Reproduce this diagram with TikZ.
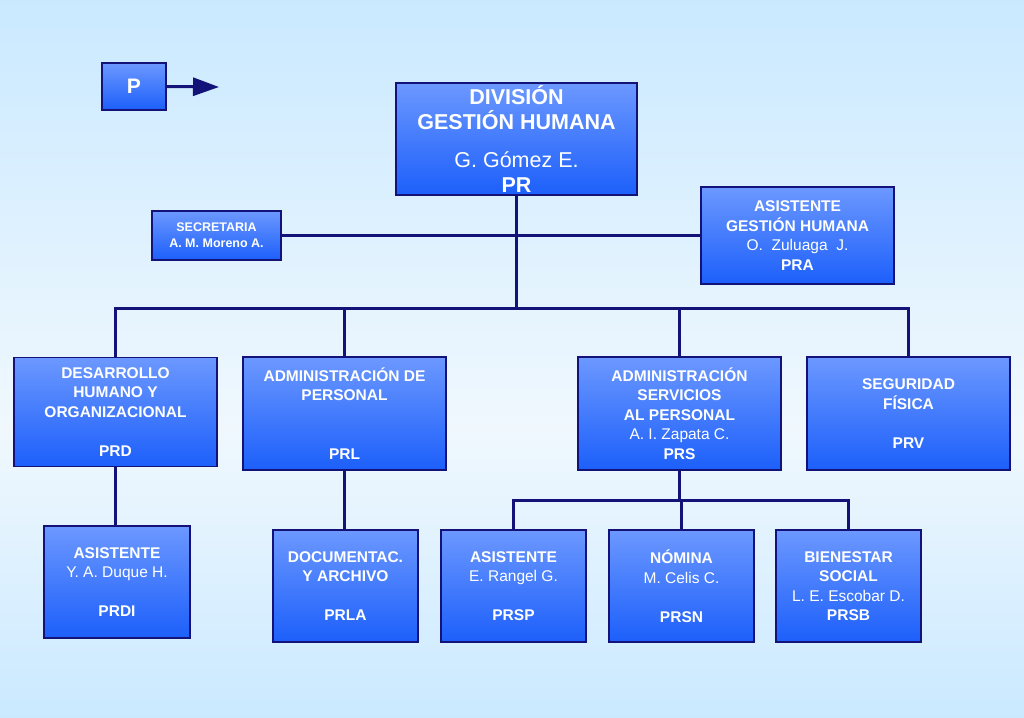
\documentclass[tikz,border=0pt]{standalone}
\usepackage{fontspec}
\setmainfont{Liberation Sans}
\usetikzlibrary{arrows.meta}
\definecolor{navy}{RGB}{18,18,120}
\definecolor{boxtop}{RGB}{108,152,255}
\definecolor{boxbot}{RGB}{28,95,250}
\definecolor{bgtop}{RGB}{202,233,255}
\definecolor{bgmid}{RGB}{240,248,254}
\tikzset{
  box/.style={draw=navy, line width=1.8pt, top color=boxtop, bottom color=boxbot,
    text=white, align=center, inner sep=0pt, font=\fontsize{15.5}{19.5}\selectfont\bfseries},
  conn/.style={draw=navy, line width=3pt}
}
\newcommand{\nmx}[1]{{\mdseries #1}}
\begin{document}
\begin{tikzpicture}[x=1pt,y=-1pt]
\useasboundingbox (0,0) rectangle (1024,717);
\shade[top color=bgtop, bottom color=bgmid] (0,0) rectangle (1024,430);
\shade[top color=bgmid, bottom color=bgtop] (0,429.5) rectangle (1024,717);

% P box and arrow
\node[box, minimum width=64pt, minimum height=47pt, font=\fontsize{21}{24}\selectfont\bfseries] (p) at (134,86.5) {P};
\coordinate (arr) at (219,87);
\draw[conn, -{Triangle[length=26pt,width=18pt]}] (p.east) -- (arr);

% top
\node[box, minimum width=241pt, minimum height=112pt, font=\fontsize{21.5}{25}\selectfont\bfseries] (pr) at (516.5,139)
  {DIVISIÓN\\GESTIÓN HUMANA\\[13pt]\mdseries G. Gómez E.\\PR};
\node[box, minimum width=129pt, minimum height=49pt, font=\fontsize{12.5}{16}\selectfont\bfseries] (sec) at (216.5,235.5)
  {SECRETARIA\\A. M. Moreno A.};
\node[box, minimum width=193pt, minimum height=97pt] (pra) at (797.5,235.5)
  {ASISTENTE\\GESTIÓN HUMANA\\\nmx{O.\ \ Zuluaga\ \ J.}\\PRA};

% level 2
\node[box, minimum width=203pt, minimum height=109pt] (prd) at (115.5,412)
  {DESARROLLO\\HUMANO Y\\ORGANIZACIONAL\\[19.5pt]PRD};
\node[box, minimum width=203pt, minimum height=113pt] (prl) at (344.5,413.5)
  {ADMINISTRACIÓN DE\\PERSONAL\\[39pt]PRL};
\node[box, minimum width=203pt, minimum height=113pt] (prs) at (679.5,413.5)
  {ADMINISTRACIÓN\\SERVICIOS\\AL PERSONAL\\\nmx{A. I. Zapata C.}\\PRS};
\node[box, minimum width=203pt, minimum height=113pt] (prv) at (908.5,413.5)
  {SEGURIDAD\\FÍSICA\\[19.5pt]PRV};

% level 3
\node[box, minimum width=146pt, minimum height=112pt] (prdi) at (117,582)
  {ASISTENTE\\\nmx{Y. A. Duque H.}\\[19.5pt]PRDI};
\node[box, minimum width=145pt, minimum height=112pt] (prla) at (345.5,586)
  {DOCUMENTAC.\\Y ARCHIVO\\[19.5pt]PRLA};
\node[box, minimum width=145pt, minimum height=112pt] (prsp) at (513.5,586)
  {ASISTENTE\\\nmx{E. Rangel G.}\\[19.5pt]PRSP};
\node[box, minimum width=145pt, minimum height=112pt] (prsn) at (681.5,586)
  {NÓMINA\\\nmx{M. Celis C.}\\[19.5pt]PRSN};
\node[box, minimum width=145pt, minimum height=112pt] (prsb) at (848.5,586)
  {BIENESTAR\\SOCIAL\\\nmx{L. E. Escobar D.}\\PRSB};

% connectors
\coordinate (bus) at (516.5,308);
\coordinate (bus2) at (679.5,500);
\draw[conn] (pr.south) -- (bus);
\draw[conn] (sec.east) -- (pra.west);
\draw[conn] (prd.north) -- (prd.north |- bus) -- (prv.north |- bus) -- (prv.north);
\draw[conn] (prl.north) -- (prl.north |- bus);
\draw[conn] (prs.north) -- (prs.north |- bus);
\draw[conn] (prd.south) -- (prd.south |- prdi.north);
\draw[conn] (prl.south) -- (prl.south |- prla.north);
\draw[conn] (prs.south) -- (bus2);
\draw[conn] (prsp.north) -- (prsp.north |- bus2) -- (prsb.north |- bus2) -- (prsb.north);
\draw[conn] (prsn.north) -- (prsn.north |- bus2);
\end{tikzpicture}
\end{document}
